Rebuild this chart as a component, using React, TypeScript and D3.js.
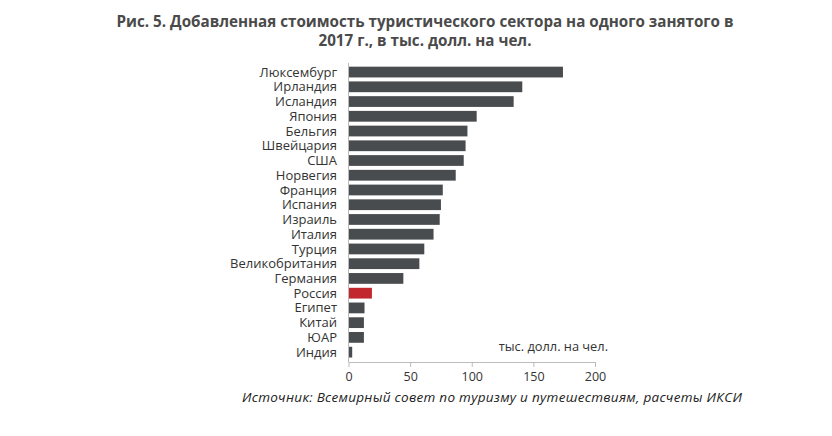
import * as d3 from "d3";
import React, { useEffect, useRef } from "react";

const countries = [
    "Люксембург", "Ирландия", "Исландия", "Япония", "Бельгия", "Швейцария", "США",
    "Норвегия", "Франция", "Испания", "Израиль", "Италия", "Турция", "Великобритания",
    "Германия", "Россия", "Египет", "Китай", "ЮАР", "Индия",
];
const values = [174, 141, 134, 104, 96.5, 95, 93.5, 87, 76.5, 75, 74, 69, 61.5, 57.5, 44.5, 19, 13, 12.5, 12.5, 3];
const xTicks = [0, 50, 100, 150, 200];
const highlight = "Россия";

const titleLines = [
    "Рис. 5. Добавленная стоимость туристического сектора на одного занятого в",
    "2017 г., в тыс. долл. на чел.",
];
const unitLabel = "тыс. долл. на чел.";
const sourceText = "Источник: Всемирный совет по туризму и путешествиям, расчеты ИКСИ";

const W = 832;
const H = 436;
const FONT = "'Open Sans', 'DejaVu Sans', sans-serif";

export default function App() {
    const ref = useRef<SVGSVGElement>(null);

    useEffect(() => {
        if (!ref.current) return;
        const svg = d3.select(ref.current);
        svg.selectAll("*").remove();

        const x = d3.scaleLinear().domain([0, 200]).range([348.5, 595]);
        const y = d3.scaleBand<string>().domain(countries).range([62.7, 361.5]).padding(0.27);

        // title
        svg.append("g")
            .selectAll("text")
            .data(titleLines)
            .join("text")
            .attr("x", 425)
            .attr("y", (_, i) => 27 + i * 19)
            .attr("text-anchor", "middle")
            .attr("font-family", FONT)
            .attr("font-weight", "bold")
            .attr("font-size", 15.2)
            .attr("fill", "#4a4a4a")
            .text((d) => d);

        // bars
        svg.append("g")
            .selectAll("rect")
            .data(countries)
            .join("rect")
            .attr("x", x(0))
            .attr("y", (d) => y(d)!)
            .attr("width", (d, i) => x(values[i]) - x(0))
            .attr("height", y.bandwidth())
            .attr("fill", (d) => (d === highlight ? "#c1272d" : "#494c4f"));

        // category labels
        svg.append("g")
            .selectAll("text")
            .data(countries)
            .join("text")
            .attr("x", 337)
            .attr("y", (d) => y(d)! + y.bandwidth() / 2)
            .attr("dy", "0.35em")
            .attr("text-anchor", "end")
            .attr("font-family", FONT)
            .attr("font-size", 13)
            .attr("fill", "#333")
            .text((d) => d);

        // y axis line
        svg.append("line")
            .attr("x1", x(0)).attr("x2", x(0))
            .attr("y1", 63).attr("y2", 362)
            .attr("stroke", "#bbb");

        // x axis
        const xAxis = svg.append("g")
            .attr("transform", "translate(0,362)")
            .call(d3.axisBottom(x).tickValues(xTicks).tickSize(5).tickSizeOuter(0));
        xAxis.select(".domain").attr("stroke", "#bbb");
        xAxis.selectAll(".tick line").attr("stroke", "#bbb");
        xAxis.selectAll(".tick text")
            .attr("font-family", FONT)
            .attr("font-size", 12.5)
            .attr("fill", "#333")
            .attr("dy", "0.9em");

        svg.append("text")
            .attr("x", 608)
            .attr("y", 347)
            .attr("dy", "0.35em")
            .attr("text-anchor", "end")
            .attr("font-family", FONT)
            .attr("font-size", 12.8)
            .attr("fill", "#333")
            .text(unitLabel);

        svg.append("text")
            .attr("x", 242)
            .attr("y", 402)
            .attr("font-family", FONT)
            .attr("font-style", "italic")
            .attr("font-size", 13.5)
            .attr("letter-spacing", 0.3)
            .attr("fill", "#222")
            .text(sourceText);
    }, []);

    return (
        <svg
            ref={ref}
            width={W}
            height={H}
            style={{ position: "absolute", left: 0, top: 0, background: "#fff" }}
        />
    );
}
